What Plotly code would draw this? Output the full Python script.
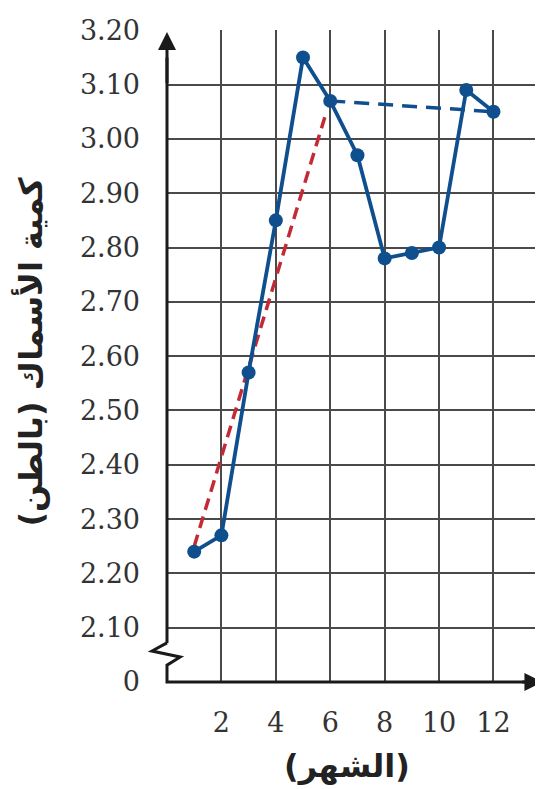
import plotly.graph_objects as go

months = [1, 2, 3, 4, 5, 6, 7, 8, 9, 10, 11, 12]
fish_tons = [2.24, 2.27, 2.57, 2.85, 3.15, 3.07, 2.97, 2.78, 2.79, 2.80, 3.09, 3.05]

red_trend_x = [1, 5.8]
red_trend_y = [2.25, 3.04]
blue_trend_x = [6, 12]
blue_trend_y = [3.07, 3.05]

x_tickvals = [2, 4, 6, 8, 10, 12]
x_ticktext = ["2", "4", "6", "8", "10", "12"]
y_tickvals = [2.0, 2.1, 2.2, 2.3, 2.4, 2.5, 2.6, 2.7, 2.8, 2.9, 3.0, 3.1, 3.2]
y_ticktext = ["0", "2.10", "2.20", "2.30", "2.40", "2.50", "2.60", "2.70",
              "2.80", "2.90", "3.00", "3.10", "3.20"]

x_title = "\u200f(الشهر)\u200f"
y_title = "\u200fكمية الأسماك (بالطن)\u200f"

BLUE = "#0f4f8e"
RED = "#c42a36"
GRID = "#4a4a4a"
AXIS = "#1a1a1a"

X_MAX = 13.82
Y_MIN, Y_MAX = 2.0, 3.2005

fig = go.Figure()

fig.add_trace(go.Scatter(x=red_trend_x, y=red_trend_y, mode="lines",
                         line=dict(color=RED, width=3.5, dash="12px,7px"),
                         hoverinfo="skip", showlegend=False))
fig.add_trace(go.Scatter(x=blue_trend_x, y=blue_trend_y, mode="lines",
                         line=dict(color=BLUE, width=3.5, dash="15px,9px"),
                         hoverinfo="skip", showlegend=False))
fig.add_trace(go.Scatter(x=months, y=fish_tons, mode="lines+markers",
                         line=dict(color=BLUE, width=3.8),
                         marker=dict(color=BLUE, size=14),
                         showlegend=False))

# axis lines with break symbol (paper coordinates so they are not clipped)
fig.add_shape(type="path", xref="paper", yref="paper",
              path="M 0,0.060 L -0.040,0.0475 L 0.035,0.0383 L 0,0.0258 L 0,0 L 0.955,0",
              line=dict(color=AXIS, width=3))
fig.add_shape(type="line", xref="paper", yref="paper", x0=0, y0=0.060, x1=0, y1=0.958,
              line=dict(color=AXIS, width=3))
# arrowheads
fig.add_annotation(x=0, y=3.197, ax=0, ay=3.10, xref="x", yref="y", axref="x", ayref="y",
                   showarrow=True, arrowhead=2, arrowsize=1.2, arrowwidth=3,
                   arrowcolor=AXIS, text="")
fig.add_annotation(x=13.8, y=2.0, ax=13.0, ay=2.0, xref="x", yref="y", axref="x", ayref="y",
                   showarrow=True, arrowhead=2, arrowsize=1.2, arrowwidth=3,
                   arrowcolor=AXIS, text="")

fig.add_annotation(text=y_title, xref="paper", yref="paper", x=-0.364, y=0.507,
                   xanchor="center", yanchor="middle", textangle=-90, showarrow=False,
                   font=dict(family="DejaVu Sans", size=32, color="#222222", weight="bold"))
fig.add_annotation(text=x_title, xref="paper", yref="paper", x=0.479, y=-0.129,
                   xanchor="center", yanchor="middle", showarrow=False,
                   font=dict(family="DejaVu Sans", size=32, color="#222222", weight="bold"))

fig.update_xaxes(range=[0, X_MAX], tickvals=x_tickvals, ticktext=x_ticktext,
                 showgrid=True, gridcolor=GRID, gridwidth=1.5, zeroline=False,
                 showline=False, ticks="", ticklabelstandoff=22,
                 tickfont=dict(family="DejaVu Serif", size=27, color="#333333"))
fig.update_yaxes(range=[Y_MIN, Y_MAX], tickvals=y_tickvals, ticktext=y_ticktext,
                 showgrid=True, gridcolor=GRID, gridwidth=1.5, zeroline=False,
                 showline=False, ticks="", ticklabelstandoff=26,
                 tickfont=dict(family="DejaVu Serif", size=27, color="#333333"))

# the page adds an 8px body margin, so the figure is sized to the remaining area
fig.update_layout(width=535, height=781,
                  margin=dict(l=159, r=0, t=22, b=107),
                  paper_bgcolor="white", plot_bgcolor="white")

fig.write_html("out.html")
